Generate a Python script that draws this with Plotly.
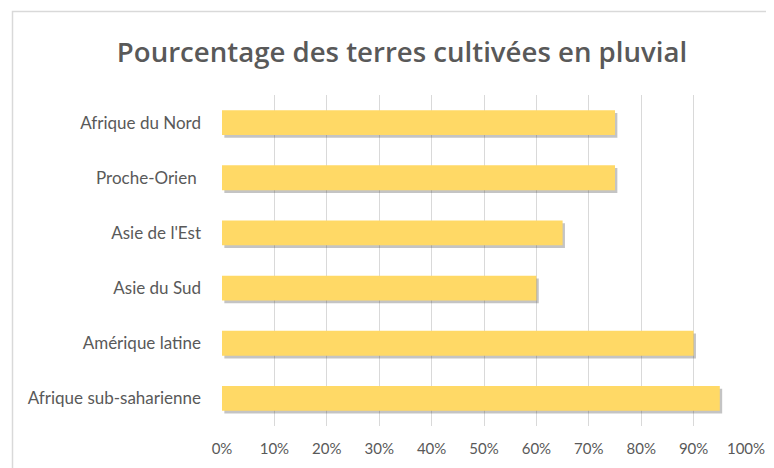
import plotly.graph_objects as go

categories = ["Afrique sub-saharienne", "Amérique latine", "Asie du Sud",
              "Asie de l'Est", "Proche-Orien ", "Afrique du Nord"]
values = [95, 90, 60, 65, 75, 75]
tick_vals = [0, 10, 20, 30, 40, 50, 60, 70, 80, 90, 100]
tick_text = ["0%", "10%", "20%", "30%", "40%", "50%", "60%", "70%", "80%", "90%", "100%"]
title = "Pourcentage des terres cultivées en pluvial"

W, H = 774, 468
OFF = 8  # page body margin
L, T = 222 - OFF, 95 - OFF
R = W - (746 - OFF)
B = H - (426 - OFF)
pw, ph = W - L - R, H - T - B

fig = go.Figure()
# soft drop shadow
fig.add_trace(go.Bar(y=categories, x=values, orientation="h", base=0.45,
                     width=0.45, offset=-0.225 - 0.05,
                     marker=dict(color="rgba(60,60,60,0.3)", line=dict(width=0)),
                     hoverinfo="skip", showlegend=False))
fig.add_trace(go.Bar(y=categories, x=values, orientation="h",
                     width=0.45, offset=-0.225,
                     marker=dict(color="#FFD966", line=dict(width=0)),
                     showlegend=False))

font_family = "Lato, 'Open Sans', sans-serif"
fig.update_layout(
    width=W, height=H, barmode="overlay",
    margin=dict(l=L, r=R, t=T, b=B, autoexpand=False),
    paper_bgcolor="white", plot_bgcolor="white",
    title=dict(text=title, x=(402 - OFF) / W, xanchor="center", xref="container",
               y=1 - (52 - OFF) / H, yanchor="middle", yref="container",
               font=dict(family="'Open Sans', sans-serif", size=27.6, weight=600,
                         color="#595959")),
    xaxis=dict(range=[0, 100], tickvals=tick_vals, ticktext=tick_text,
               showgrid=True, gridcolor="#D9D9D9", gridwidth=1,
               zeroline=False, showline=False, ticks="",
               ticklabelstandoff=12,
               tickfont=dict(family=font_family, size=15, color="#595959")),
    yaxis=dict(categoryorder="array", categoryarray=categories,
               range=[-0.5, 5.5], showgrid=False, zeroline=False,
               showline=False, ticks="", ticklabelstandoff=20,
               tickfont=dict(family=font_family, size=17, color="#595959")),
    shapes=[dict(type="rect", xref="paper", yref="paper",
                 x0=(12.5 - OFF - L) / pw, x1=(800 - L) / pw,
                 y0=(H - B - 480) / ph, y1=(H - B - (11.5 - OFF)) / ph,
                 line=dict(color="#D9D9D9", width=1.5), fillcolor="rgba(0,0,0,0)",
                 layer="below")],
)
fig.write_html("out.html")
